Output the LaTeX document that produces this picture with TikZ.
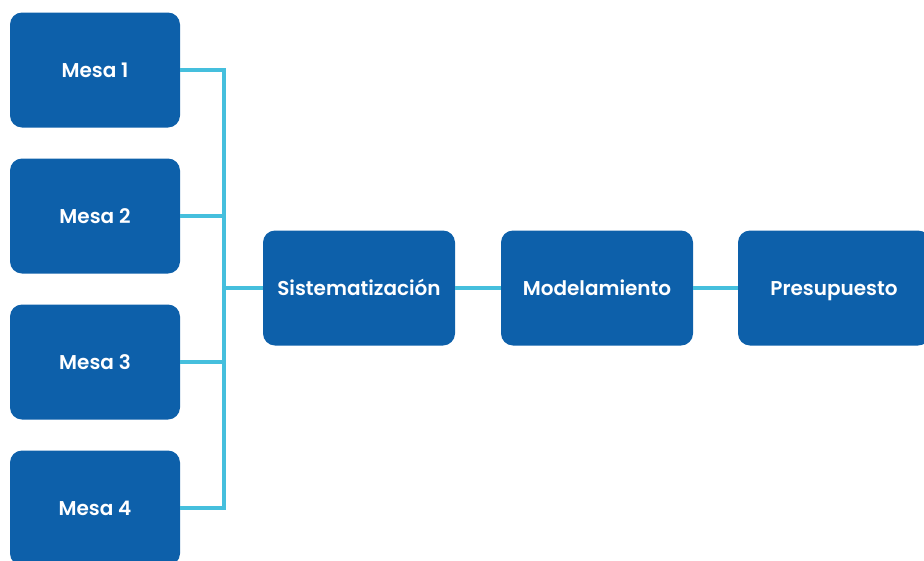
\documentclass[tikz,border=0pt]{standalone}
\usepackage{fontspec}
\setmainfont{Poppins}[BoldFont=Poppins SemiBold]
\usetikzlibrary{calc}
\definecolor{boxblue}{HTML}{0D60AA}
\definecolor{linecyan}{HTML}{45BFDD}
\begin{document}
\begin{tikzpicture}[x=1pt,y=-1pt]
      \tikzset{box/.style = {shape=rectangle,rounded corners=12pt,fill=boxblue,text=white,
          font=\fontsize{20}{22}\selectfont\bfseries,minimum width=170pt,minimum height=115pt,
          inner sep=0pt,text height=14pt,text depth=0pt}}
      \tikzset{step box/.style = {box,minimum width=192pt}}
      \tikzset{edge/.style = {-,draw=linecyan,line width=3.5pt}}
      \useasboundingbox (0,0) rectangle (924,560);
      \node[box] (m1) at (95, 70) {Mesa 1};
      \node[box] (m2) at (95, 216) {Mesa 2};
      \node[box] (m3) at (95, 362) {Mesa 3};
      \node[box] (m4) at (95, 508) {Mesa 4};

      \node[step box] (s) at (359, 288) {Sistematización};
      \node[step box] (md) at (597, 288) {Modelamiento};
      \node[step box] (p) at (834, 288) {Presupuesto};

      \coordinate (j) at (224, 288);

      \draw[edge] (m1.east) -| (j);
      \draw[edge] (m2.east) -| (j);
      \draw[edge] (m3.east) -| (j);
      \draw[edge] (m4.east) -| (j);
      \draw[edge] (j) -- (s.west);
      \draw[edge] (s) -- (md);
      \draw[edge] (md) -- (p);
    \end{tikzpicture}
\end{document}
